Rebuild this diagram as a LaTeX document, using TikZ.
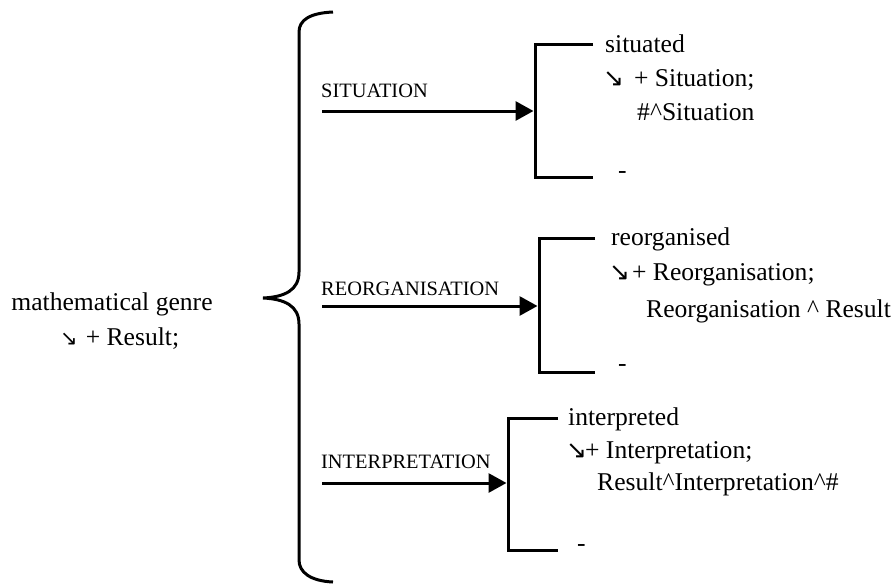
\documentclass[tikz,border=0pt]{standalone}
\usepackage{fontspec}
\setmainfont{Liberation Serif}
\newfontfamily\arrowfont{DejaVu Sans}
\usetikzlibrary{arrows.meta}
\newcommand{\sarr}[2][25]{{\arrowfont\fontsize{#1}{20}\selectfont ↘}\hspace{#2}}
\tikzset{
  bodytext/.style={font=\fontsize{25.6}{30}\selectfont, inner sep=0pt, anchor=base west},
  choicelabel/.style={font=\fontsize{20.4}{24}\selectfont, inner sep=0pt, anchor=base west},
  feed/.style={-{Triangle[length=18pt,width=19pt]}, line width=3pt},
  bracket/.style={line width=3pt},
}

\begin{document}
\begin{tikzpicture}[x=1pt, y=-1pt]
  \useasboundingbox (0,0) rectangle (895,584);
  % entry condition
  \node[bodytext, anchor=base] (genre) at (112,310) {mathematical genre};
  \node[bodytext] (genreres) at (60,345) {\sarr[21]{8pt}+ Result;};
  % big brace
  \draw[bracket] (333,12) .. controls (310,13) and (299,20) .. (299,32) -- (299,272)
        .. controls (299,290) and (285,297) .. (263,298)
        .. controls (285,299) and (299,306) .. (299,324) -- (299,560)
        .. controls (299,572) and (310,581) .. (333,582);
  % three choice brackets
  \foreach \nm/\bx/\ty/\by/\ex/\ay in {sit/535/44/177/593/111, reo/539/238/372/595/306, int/508/418/550/558/483} {
    \draw[bracket] (\ex,\ty) -- (\bx,\ty) -- (\bx,\by) -- (\ex,\by);
    \coordinate (\nm br) at (\bx-1.5,\ay);
    \coordinate (\nm in) at (322,\ay);
  }
  % feature arrows
  \foreach \nm/\t/\ly in {sit/SITUATION/97, reo/REORGANISATION/295, int/INTERPRETATION/468} {
    \node[choicelabel] (\nm lbl) at (321,\ly) {\t};
    \draw[feed] (\nm in) -- (\nm br);
  }
  % situated
  \node[bodytext] (sit1) at (605,52) {situated};
  \node[bodytext] (sit2) at (603,86) {\sarr{10pt}+ Situation;};
  \node[bodytext] (sit3) at (637,120) {\#\textasciicircum Situation};
  \node[bodytext] (sit0) at (618,178) {-};
  % reorganised
  \node[bodytext] (reo1) at (611,245) {reorganised};
  \node[bodytext] (reo2) at (609,280) {\sarr{2pt}+ Reorganisation;};
  \node[bodytext] (reo3) at (646,317) {Reorganisation \textasciicircum\ Result};
  \node[bodytext] (reo0) at (618,371) {-};
  % interpreted
  \node[bodytext] (int1) at (568,425) {interpreted};
  \node[bodytext] (int2) at (566,458) {\sarr{-2pt}+ Interpretation;};
  \node[bodytext] (int3) at (597,490) {Result\textasciicircum Interpretation\textasciicircum\#};
  \node[bodytext] (int0) at (577,551) {-};
\end{tikzpicture}
\end{document}
